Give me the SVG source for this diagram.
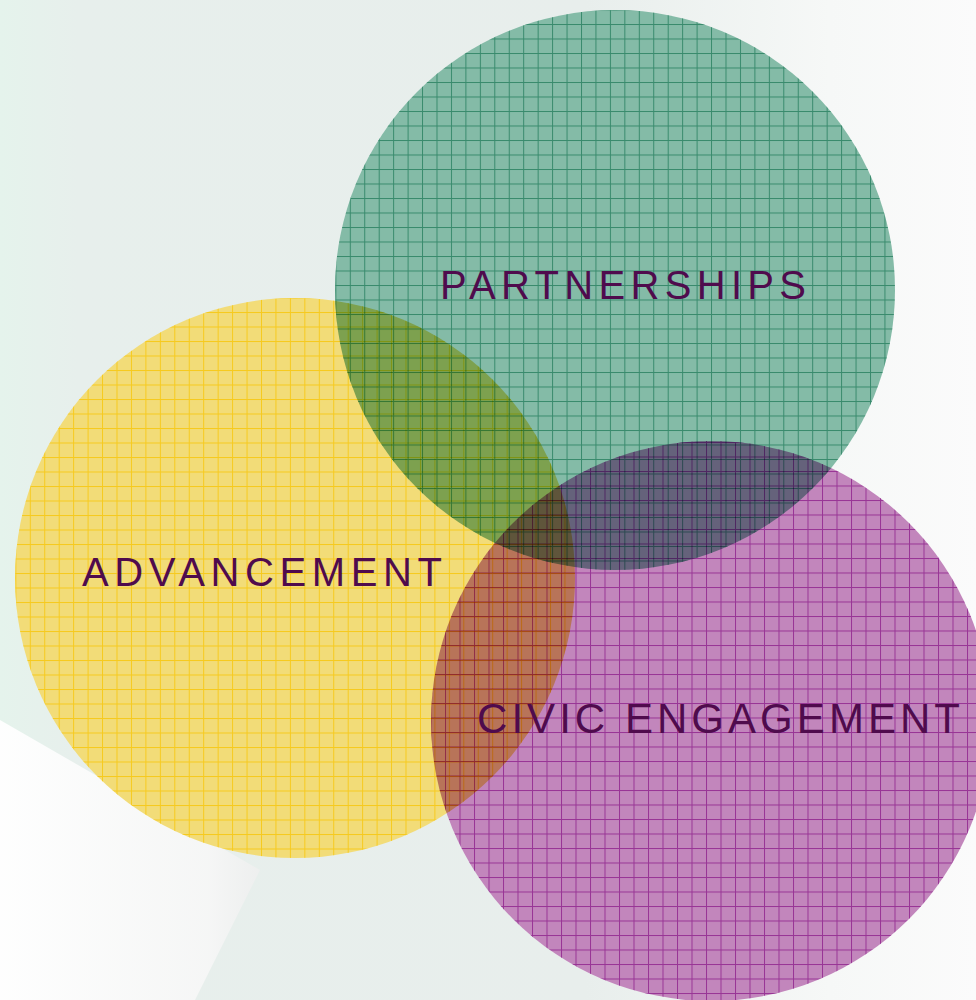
<svg xmlns="http://www.w3.org/2000/svg" width="976" height="1000" viewBox="0 0 976 1000">
  <defs>
    <linearGradient id="bg" x1="0" y1="0" x2="1" y2="0">
      <stop offset="0" stop-color="#e5f3ec"/>
      <stop offset="0.08" stop-color="#e7efec"/>
      <stop offset="0.6" stop-color="#e8eeec"/>
      <stop offset="0.85" stop-color="#f6f8f7"/>
      <stop offset="1" stop-color="#fbfbfb"/>
    </linearGradient>
    <linearGradient id="streak" x1="0" y1="0" x2="1" y2="0">
      <stop offset="0" stop-color="#ffffff" stop-opacity="0.95"/>
      <stop offset="0.8" stop-color="#f7f7f7" stop-opacity="0.9"/>
      <stop offset="1" stop-color="#efefef" stop-opacity="0.8"/>
    </linearGradient>
    <pattern id="gridG" patternUnits="userSpaceOnUse" x="436.5" y="53" width="14.45" height="14.5">
      <rect width="1" height="14.5" fill="#1f7a59"/>
      <rect width="14.45" height="1" fill="#1f7a59"/>
    </pattern>
    <pattern id="gridY" patternUnits="userSpaceOnUse" x="116.5" y="413.5" width="14.45" height="14.5">
      <rect width="1" height="14.5" fill="#f8c400"/>
      <rect width="14.45" height="1" fill="#f8c400"/>
    </pattern>
    <pattern id="gridP" patternUnits="userSpaceOnUse" x="604.5" y="804.5" width="14.5" height="14.5">
      <rect width="1" height="14.5" fill="#8a1a88"/>
      <rect width="14.5" height="1" fill="#8a1a88"/>
    </pattern>
    <style>
      .lbl { font-family: "Liberation Sans", Arial, sans-serif; fill: #4f0b4d; }
      .mul { mix-blend-mode: multiply; }
    </style>
  </defs>

  <g id="background">
    <rect width="976" height="1000" fill="url(#bg)"/>
    <path d="M0 720 L260 870 L195 1000 L0 1000 Z" fill="url(#streak)"/>
  </g>

  <g id="circles" style="isolation:isolate">
    <g id="node-advancement">
      <circle cx="295" cy="578" r="280" fill="#f2dc78"/>
      <circle cx="295" cy="578" r="280" fill="url(#gridY)" opacity="0.75"/>
    </g>

    <g id="node-partnerships" class="mul">
      <circle cx="615" cy="290" r="280" fill="#84bba7"/>
      <circle cx="615" cy="290" r="280" fill="url(#gridG)" opacity="0.75"/>
    </g>

    <g id="node-civic" class="mul">
      <circle cx="711" cy="721" r="280" fill="#c286bc"/>
      <circle cx="711" cy="721" r="280" fill="url(#gridP)" opacity="0.75"/>
    </g>
  </g>

  <g id="labels">
    <text class="lbl" x="440" y="299" font-size="40" textLength="366" lengthAdjust="spacing">PARTNERSHIPS</text>
    <text class="lbl" x="82" y="586" font-size="40" textLength="360" lengthAdjust="spacing">ADVANCEMENT</text>
    <text class="lbl" x="477" y="733" font-size="42" textLength="483" lengthAdjust="spacing">CIVIC ENGAGEMENT</text>
  </g>
</svg>
